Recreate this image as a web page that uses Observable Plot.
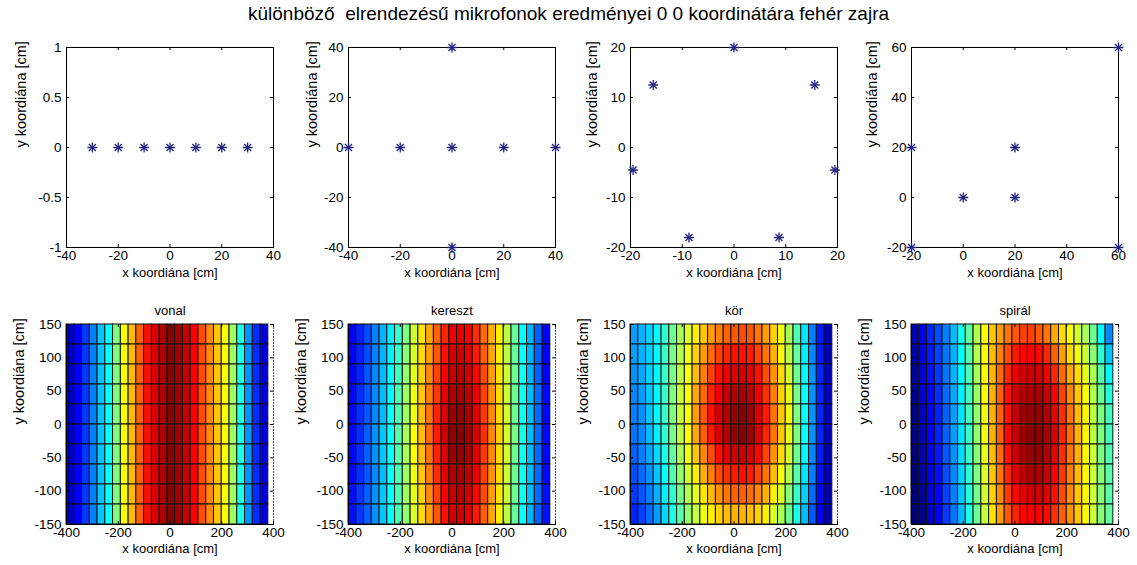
<!DOCTYPE html>
<html><head><meta charset="utf-8">
<script src="https://cdn.jsdelivr.net/npm/d3@7"></script>
<script src="https://cdn.jsdelivr.net/npm/@observablehq/plot@0.6"></script>
<style>
body{margin:0;background:#fff;}
#fig{position:relative;width:1137px;height:565px;background:#fff;font-family:"Liberation Sans",Arial,sans-serif;overflow:hidden;}
#title{position:absolute;left:0;width:1137px;top:3px;text-align:center;font-size:19px;color:#000;white-space:pre;}
.sub{position:absolute;}
</style></head><body>
<div id="fig"><div id="title">különböző  elrendezésű mikrofonok eredményei 0 0 koordinátára fehér zajra</div></div>
<script>
// ---------- data ----------
const xLabel = "x koordiána [cm]";
const yLabel = "y koordiána [cm]";
const mapTitles = ["vonal", "kereszt", "kör", "spirál"];

// microphone positions (top row)
const vonalMicX = [-30, -20, -10, 0, 10, 20, 30];
const vonalMicY = [0, 0, 0, 0, 0, 0, 0];
const keresztMicX = [-40, -20, 0, 20, 40, 0, 0];
const keresztMicY = [0, 0, 0, 0, 0, 40, -40];
const korMicX = [0, 15.6, 19.5, 8.7, -8.7, -19.5, -15.6];
const korMicY = [20, 12.5, -4.5, -18, -18, -4.5, 12.5];
const spiralMicX = [-20, -20, 0, 20, 20, 60, 60];
const spiralMicY = [-20, 20, 0, 0, 20, 60, -20];

// top row axes
const vonalXDomain = [-40, 40], vonalYDomain = [-1, 1];
const vonalXTicks = [-40, -20, 0, 20, 40], vonalYTicks = [-1, -0.5, 0, 0.5, 1];
const keresztXDomain = [-40, 40], keresztYDomain = [-40, 40];
const keresztXTicks = [-40, -20, 0, 20, 40], keresztYTicks = [-40, -20, 0, 20, 40];
const korXDomain = [-20, 20], korYDomain = [-20, 20];
const korXTicks = [-20, -10, 0, 10, 20], korYTicks = [-20, -10, 0, 10, 20];
const spiralXDomain = [-20, 60], spiralYDomain = [-20, 60];
const spiralXTicks = [-20, 0, 20, 40, 60], spiralYTicks = [-20, 0, 20, 40, 60];

// bottom row: pcolor grid and axes
const gridX = [-400,-370,-340,-310,-280,-250,-220,-190,-160,-130,-100,-70,-40,-10,20,50,80,110,140,170,200,230,260,290,320,350,380];
const gridY = [-150,-120,-90,-60,-30,0,30,60,90,120,150];
const mapXDomain = [-400, 400], mapYDomain = [-150, 150];
const mapXTicks = [-400, -200, 0, 200, 400];
const mapYTicks = [-150, -100, -50, 0, 50, 100, 150];

// map values (percent of colour range), rows listed from top (y=120..150) to bottom (y=-150..-120)
const vonalMap = [
 [6,12,18,25,32,38,50,62,69,78,86,91,95,99,97,93,88,80,74,68,62,53,40,27,17,9],
 [6,12,18,25,32,38,50,62,69,78,86,91,95,99,97,93,88,80,74,68,62,53,40,27,17,9],
 [6,12,18,25,32,38,50,62,69,78,86,91,95,99,97,93,88,80,74,68,62,53,40,27,17,9],
 [6,12,18,25,32,38,50,62,69,78,86,91,95,99,97,93,88,80,74,68,62,53,40,27,17,9],
 [6,12,18,25,32,38,50,62,69,78,86,91,95,99,97,93,88,80,74,68,62,53,40,27,17,9],
 [6,12,18,25,32,38,50,62,69,78,86,91,95,99,97,93,88,80,74,68,62,53,40,27,17,9],
 [6,12,18,25,32,38,50,62,69,78,86,91,95,99,97,93,88,80,74,68,62,53,40,27,17,9],
 [6,12,18,25,32,38,50,62,69,78,86,91,95,99,97,93,88,80,74,68,62,53,40,27,17,9],
 [6,12,18,25,32,38,50,62,69,78,86,91,95,99,97,93,88,80,74,68,62,53,40,27,17,9],
 [6,12,18,25,32,38,50,62,69,78,86,91,95,99,97,93,88,80,74,68,62,53,40,27,17,9]
];
const keresztMap = [
 [12,16,20,25,30,36,43,50,58,65,71,78,84,89,90,88,83,77,70,64,56,47,38,30,22,12],
 [12,16,20,25,30,36,43,51,59,66,72,79,86,91,92,90,85,78,71,64,56,47,38,30,22,12],
 [12,16,21,26,31,37,44,52,60,67,74,81,88,93,94,92,87,80,72,65,57,48,39,30,22,12],
 [13,17,21,26,31,37,45,53,61,68,75,82,90,95,96,94,89,81,73,66,57,48,39,31,23,13],
 [13,17,21,26,31,38,45,53,61,69,76,84,91,97,98,96,90,82,74,66,58,48,39,31,23,13],
 [13,17,22,27,32,38,46,54,62,69,77,85,92,98,99,97,91,83,74,67,58,49,40,31,23,13],
 [13,17,22,27,32,38,46,54,62,69,76,84,91,97,98,96,90,82,74,66,58,48,39,31,23,13],
 [13,17,21,26,31,38,45,53,61,68,75,83,90,95,96,94,89,81,73,66,57,48,39,31,23,13],
 [14,18,22,27,32,38,45,53,60,67,74,81,88,93,94,92,87,80,72,65,57,48,39,31,23,14],
 [14,18,22,27,32,38,45,52,59,66,72,79,86,91,92,90,85,78,71,64,56,47,38,30,22,14]
];
const korMap = [
 [28,30,33,37,42,48,54,59,64,68,72,75,78,79,80,79,76,72,67,61,54,45,35,25,15,5],
 [28,30,33,37,43,49,55,61,67,72,77,81,84,86,86,85,81,76,70,63,56,47,36,26,15,5],
 [27,29,33,37,43,49,56,62,69,75,81,86,89,91,92,90,86,80,73,66,58,48,37,27,16,6],
 [26,28,32,37,43,50,57,63,71,77,84,89,93,95,96,94,89,83,75,67,60,49,38,27,16,6],
 [25,27,32,37,43,50,57,63,72,79,86,92,95,98,99,97,91,85,76,68,61,50,38,27,16,6],
 [24,26,31,36,42,49,56,63,71,78,85,91,95,98,99,97,91,84,76,68,60,50,38,27,16,6],
 [22,25,29,34,40,47,54,61,68,74,80,86,90,92,93,91,87,81,73,66,58,48,37,26,15,5],
 [20,23,27,32,38,45,52,58,64,70,75,80,83,85,86,85,81,76,69,62,55,46,35,25,14,5],
 [18,21,25,30,36,42,49,55,60,65,69,73,76,78,78,77,74,70,64,58,51,43,33,23,13,4],
 [16,19,23,28,34,40,46,52,57,61,64,67,69,70,70,69,67,64,59,54,48,40,31,21,12,4]
];
const spiralMap = [
 [5,11,16,20,25,31,39,47,55,62,68,72,76,79,81,81,79,76,71,66,62,58,54,48,37,26],
 [4,10,15,19,24,30,38,46,55,62,69,75,80,85,87,88,87,84,78,72,66,61,57,51,42,32],
 [3,9,14,18,24,30,37,45,54,63,70,77,84,89,92,93,92,89,84,77,71,66,60,54,46,37],
 [2,8,13,17,23,29,36,44,53,62,70,78,86,92,95,96,96,93,88,81,74,68,62,55,48,41],
 [1,7,12,16,22,28,35,44,52,61,70,78,86,93,97,98,98,95,90,83,76,69,63,56,50,44],
 [1,6,12,16,22,28,35,43,52,61,70,78,87,93,97,99,99,96,91,84,77,70,63,56,50,44],
 [0,5,11,15,21,27,34,43,51,60,69,77,86,92,96,98,98,95,90,83,76,70,63,57,50,45],
 [0,4,10,14,20,26,33,42,50,59,68,76,84,90,94,96,96,93,88,82,75,69,63,57,51,46],
 [0,3,9,13,19,25,32,41,49,58,67,74,82,87,90,92,92,90,86,80,74,68,63,57,51,46],
 [0,2,8,12,18,24,31,40,48,57,65,72,79,84,87,88,88,87,83,78,73,68,63,57,51,47]
];

// ---------- layout ----------
const fig = document.getElementById("fig");
const frameLefts = [66, 348, 630, 911];
const frameW = 207, frameH = 200;
const topFrameTop = 47, bottomFrameTop = 324;
const ML = 60, MR = 12, MT = 24, MB = 38;
const W = ML + frameW + MR, H = MT + frameH + MB;
const fmt = d => String(d);
const starColor = "#23237e";
const jetStops = ["#00007f","#0000ff","#007fff","#00ffff","#7fff7f","#ffff00","#ff7f00","#ff0000","#7f0000"];
const jet = d3.piecewise(d3.interpolateRgb, jetStops);
const font = "'Liberation Sans', Arial, sans-serif";

function place(svg, left, top) {
  const d = document.createElement("div");
  d.className = "sub";
  d.style.left = left + "px";
  d.style.top = top + "px";
  d.appendChild(svg);
  fig.appendChild(d);
}

function tickMarks(xt, yt) {
  const tl = 3;
  return [
    Plot.tickX(xt, {x: d => d, insetTop: frameH - tl, stroke: "#000"}),
    Plot.tickX(xt, {x: d => d, insetBottom: frameH - tl, stroke: "#000"}),
    Plot.tickY(yt, {y: d => d, insetRight: frameW - tl, stroke: "#000"}),
    Plot.tickY(yt, {y: d => d, insetLeft: frameW - tl, stroke: "#000"})
  ];
}

function labels(xt, yt, ylabDx, xlabDy) {
  return [
    Plot.axisX({ticks: xt, tickSize: 0, tickPadding: 3, tickFormat: fmt, label: null, fontSize: 13.5}),
    Plot.axisY({ticks: yt, tickSize: 0, tickPadding: 5, tickFormat: fmt, label: null, fontSize: 13.5}),
    Plot.text([xLabel], {text: d => d, frameAnchor: "bottom", lineAnchor: "middle", dy: xlabDy, fontSize: 13}),
    Plot.text([yLabel], {text: d => d, frameAnchor: "left", rotate: -90, lineAnchor: "middle", dx: ylabDx, fontSize: 14.5})
  ];
}

function micPlot(mx, my, xd, yd, xt, yt, ylabDx) {
  const pts = mx.map((x, i) => ({x, y: my[i]}));
  return Plot.plot({
    width: W, height: H, marginLeft: ML, marginRight: MR, marginTop: MT, marginBottom: MB,
    style: {fontFamily: font, background: "transparent", overflow: "visible", color: "#000"},
    x: {domain: xd}, y: {domain: yd},
    marks: [
      Plot.frame({stroke: "#000"}),
      ...tickMarks(xt, yt),
      ...labels(xt, yt, ylabDx, 25),
      Plot.dot(pts, {x: "x", y: "y", symbol: "plus", r: 3.3, stroke: starColor, strokeWidth: 1.3}),
      Plot.dot(pts, {x: "x", y: "y", symbol: "times", r: 3.3, stroke: starColor, strokeWidth: 1.3})
    ]
  });
}

function mapPlot(map, title) {
  const cells = [];
  const nr = map.length;
  map.forEach((row, i) => row.forEach((v, j) => cells.push({
    x1: gridX[j], x2: gridX[j + 1], y1: gridY[nr - 1 - i], y2: gridY[nr - i], v
  })));
  return Plot.plot({
    width: W, height: H, marginLeft: ML, marginRight: MR, marginTop: MT, marginBottom: MB,
    style: {fontFamily: font, background: "transparent", overflow: "visible", color: "#000"},
    x: {domain: mapXDomain}, y: {domain: mapYDomain},
    color: {type: "linear", domain: [0, 100], interpolate: jet},
    marks: [
      Plot.rect(cells, {x1: "x1", x2: "x2", y1: "y1", y2: "y2", fill: "v", stroke: "#111", strokeWidth: 1}),
      Plot.frame({anchor: "bottom", stroke: "#000"}),
      Plot.frame({anchor: "left", stroke: "#000"}),
      Plot.frame({anchor: "right", stroke: "#555", strokeDasharray: "1,2"}),
      ...tickMarks(mapXTicks, mapYTicks),
      ...labels(mapXTicks, mapYTicks, -47, 24),
      Plot.text([title], {text: d => d, frameAnchor: "top", lineAnchor: "middle", dy: -14, fontSize: 13})
    ]
  });
}

const tops = [
  micPlot(vonalMicX, vonalMicY, vonalXDomain, vonalYDomain, vonalXTicks, vonalYTicks, -45),
  micPlot(keresztMicX, keresztMicY, keresztXDomain, keresztYDomain, keresztXTicks, keresztYTicks, -36),
  micPlot(korMicX, korMicY, korXDomain, korYDomain, korXTicks, korYTicks, -38),
  micPlot(spiralMicX, spiralMicY, spiralXDomain, spiralYDomain, spiralXTicks, spiralYTicks, -39)
];
tops.forEach((p, i) => place(p, frameLefts[i] - ML, topFrameTop - MT));

const maps = [vonalMap, keresztMap, korMap, spiralMap];
maps.forEach((m, i) => place(mapPlot(m, mapTitles[i]), frameLefts[i] - ML, bottomFrameTop - MT));
</script>
</body></html>
